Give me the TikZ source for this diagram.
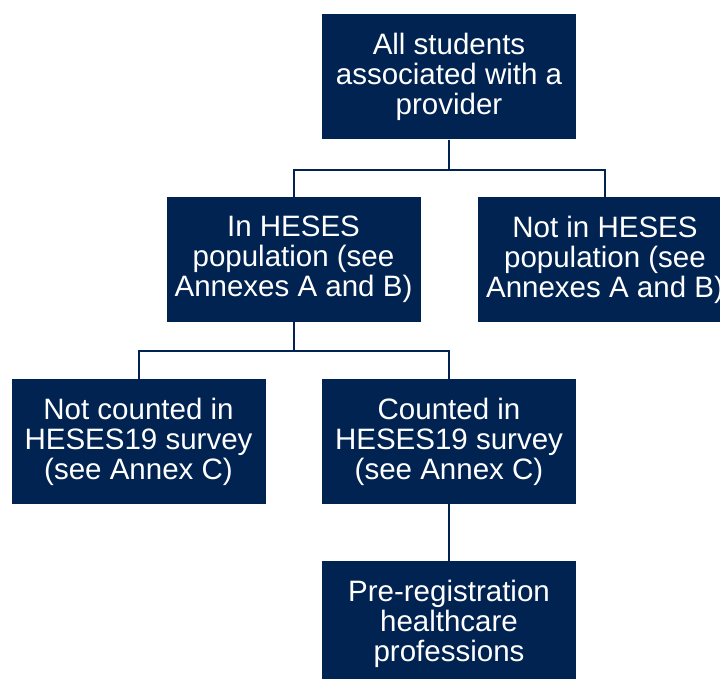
\documentclass[tikz,border=0pt]{standalone}
\usepackage{fontspec}
\setmainfont{Liberation Sans}
\usetikzlibrary{positioning}
\definecolor{navy}{RGB}{0,35,82}
\tikzset{
  box/.style={fill=navy, text=white, minimum width=254pt, minimum height=125pt,
    inner sep=0pt, align=center, font=\fontsize{29.5}{30}\selectfont},
  link/.style={draw=navy, line width=2pt}
}
\begin{document}
\begin{tikzpicture}[x=1pt,y=1pt]
\useasboundingbox (0,0) rectangle (720,-679);
\clip (0,0) rectangle (720,-679);
% Boxes
\node[box] (top) at (449,-77) {All students\\associated with a\\provider};
\node[box] (inpop) at (293.5,-259.5) {In HESES\\population (see\\Annexes A and B)};
\node[box] (notinpop) at (605,-259.5) {Not in HESES\\population (see\\Annexes A and B)};
\node[box] (notcounted) at (138.5,-441.5) {Not counted in\\HESES19 survey\\(see Annex C)};
\node[box] (counted) at (449,-441.5) {Counted in\\HESES19 survey\\(see Annex C)};
\node[box] (prereg) at (449,-623.5) {Pre-registration\\healthcare\\professions};
% Connectors
\draw[link] (top.south) -- ++(0,-30) -| (inpop.north);
\draw[link] (top.south) -- ++(0,-30) -| (notinpop.north);
\draw[link] (inpop.south) -- ++(0,-29) -| (notcounted.north);
\draw[link] (inpop.south) -- ++(0,-29) -| (counted.north);
\draw[link] (counted.south) -- (prereg.north);
\end{tikzpicture}
\end{document}
